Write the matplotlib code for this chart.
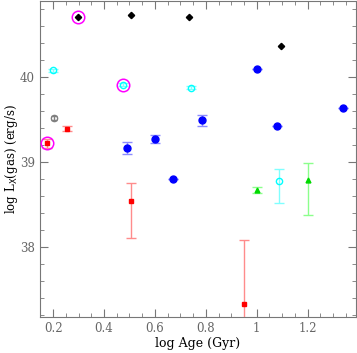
import matplotlib
matplotlib.use("Agg")
import matplotlib.pyplot as plt
from matplotlib.ticker import MultipleLocator

# black diamonds
blk_x = [0.298, 0.505, 0.733, 1.094]
blk_y = [40.714, 40.73, 40.706, 40.365]

# blue filled circles
blue_x = [0.49, 0.60, 0.671, 0.785, 1.0, 1.08, 1.338]
blue_y = [39.17, 39.27, 38.80, 39.49, 40.10, 39.42, 39.64]
blue_err = [0.07, 0.05, 0.0, 0.065, 0.0, 0.0, 0.0]

# cyan open circles
cyan_x = [0.2015, 0.476, 0.741, 1.086]
cyan_y = [40.08, 39.91, 39.875, 38.773]
cyan_lo = [0.02, 0.02, 0.02, 0.26]
cyan_hi = [0.02, 0.02, 0.02, 0.15]

# grey open circle
grey_x = [0.203]
grey_y = [39.52]

# red squares
red_x = [0.175, 0.254, 0.505, 0.951]
red_y = [39.22, 39.39, 38.54, 37.33]
red_lo = [0.05, 0.03, 0.43, 0.5]
red_hi = [0.05, 0.03, 0.21, 0.75]

# green triangles
grn_x = [1.0, 1.2]
grn_y = [38.675, 38.785]
grn_lo = [0.04, 0.405]
grn_hi = [0.03, 0.205]

# magenta rings
ring_x = [0.175, 0.298, 0.476]
ring_y = [39.22, 40.714, 39.91]

plt.rcParams['font.family'] = 'DejaVu Serif'

fig = plt.figure(figsize=(3.57, 3.53), dpi=100)
ax = fig.add_axes([0.111, 0.103, 0.886, 0.895])

cap = 3.5
ax.errorbar(red_x, red_y, yerr=[red_lo, red_hi], fmt='s', color='red', ms=3,
            ecolor=(1, 0.55, 0.55), elinewidth=1, capsize=cap, zorder=3)
# blue: bars first, markers on top so the zero-length caps stay hidden
ax.errorbar(blue_x, blue_y, yerr=blue_err, fmt='none',
            ecolor=(0.55, 0.55, 1), elinewidth=1, capsize=cap, zorder=3)
ax.plot(blue_x, blue_y, 'o', color='blue', ms=5, zorder=4)
ax.errorbar(cyan_x, cyan_y, yerr=[cyan_lo, cyan_hi], fmt='o', color='cyan',
            mfc='none', mew=1, ms=4.5, ecolor=(0.5, 1, 1), elinewidth=1,
            capsize=cap, zorder=3)
ax.errorbar(grey_x, grey_y, yerr=0.02, fmt='o', color='grey', mfc='none',
            mew=1, ms=4.5, elinewidth=1, capsize=2, zorder=3)
ax.errorbar(grn_x, grn_y, yerr=[grn_lo, grn_hi], fmt='^', color=(0, 0.85, 0),
            ms=3.5, ecolor=(0.55, 1, 0.55), elinewidth=1, capsize=cap, zorder=3)
ax.plot(blk_x, blk_y, 'D', color='black', ms=3.2, zorder=4)
ax.plot(ring_x, ring_y, 'o', mfc='none', mec='magenta', mew=1.1, ms=9, zorder=5)

ax.set_xlim(0.147, 1.39)
ax.set_ylim(37.18, 40.9)

ax.xaxis.set_minor_locator(MultipleLocator(0.05))
ax.yaxis.set_major_locator(MultipleLocator(1))
ax.yaxis.set_minor_locator(MultipleLocator(0.2))
ax.set_xticks([0.2, 0.4, 0.6, 0.8, 1.0, 1.2])
ax.set_xticklabels(['0.2', '0.4', '0.6', '0.8', '1', '1.2'])

ax.tick_params(which='both', direction='in', top=True, right=True,
               colors='#777777', labelcolor='#666666', labelsize=8.5)
ax.tick_params(which='major', length=6)
ax.tick_params(which='minor', length=3)
for s in ax.spines.values():
    s.set_color('#777777')

ax.set_xlabel('log Age (Gyr)', fontsize=9, labelpad=2)
ax.set_ylabel(r'log L$_\mathrm{X}$(gas) (erg/s)', fontsize=8.5, va='center')
ax.yaxis.set_label_coords(-0.088, 0.5)

fig.savefig('out.png', dpi=100)
